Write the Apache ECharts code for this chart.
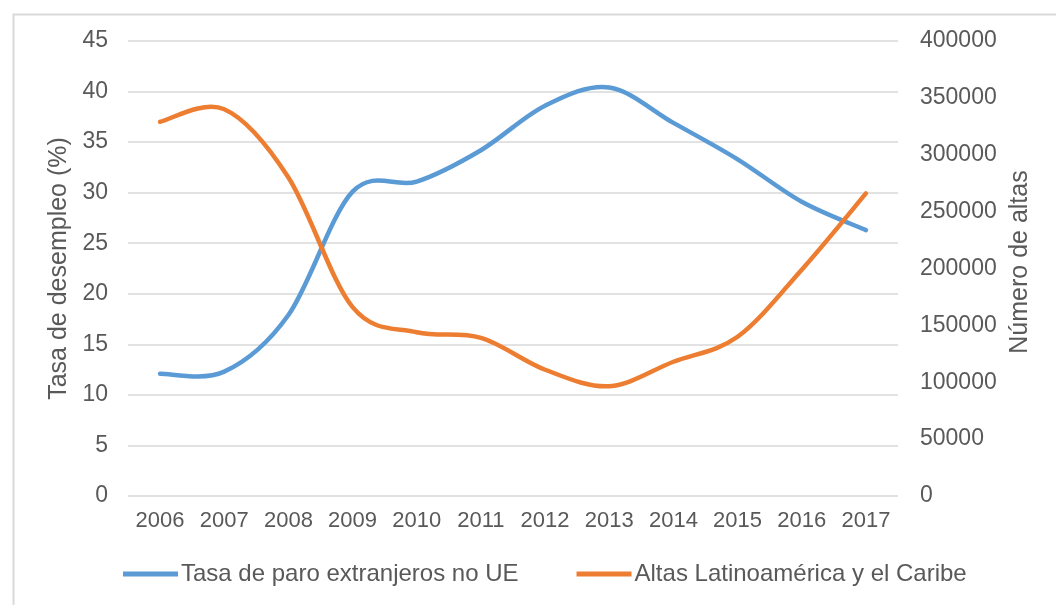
<!DOCTYPE html>
<html>
<head>
<meta charset="utf-8">
<script src="https://cdn.jsdelivr.net/npm/echarts@6/dist/echarts.min.js"></script>
<style>
html,body{margin:0;padding:0;background:#fff;}
#chart{width:1056px;height:605px;}
</style>
</head>
<body>
<div id="chart"></div>
<script>
const years = ['2006','2007','2008','2009','2010','2011','2012','2013','2014','2015','2016','2017'];
const tasaParo = [12.1, 12.3, 17.9, 30.1, 31.1, 34.2, 38.6, 40.4, 36.9, 33.3, 29.1, 26.3];
const altas = [329000, 340000, 280000, 166000, 144000, 139000, 111000, 96500, 118000, 140000, 199000, 266000];
const seriesNames = ['Tasa de paro extranjeros no UE', 'Altas Latinoamérica y el Caribe'];
const leftAxisName = 'Tasa de desempleo (%)';
const rightAxisName = 'Número de altas';

const font = 'Liberation Sans, Arial, sans-serif';
const txt = '#595959';
const BLUE = '#5B9BD5', ORANGE = '#ED7D31';

// Smooth (Excel-like Catmull-Rom) line drawn through the axis scales
function smoothRender(values, color) {
  return function (params, api) {
    if (params.dataIndex !== 0) return null;
    const pts = values.map((v, i) => api.coord([i, v]));
    let d = 'M' + pts[0][0] + ' ' + pts[0][1];
    for (let i = 0; i < pts.length - 1; i++) {
      const p0 = pts[i - 1] || pts[i], p1 = pts[i], p2 = pts[i + 1], p3 = pts[i + 2] || pts[i + 1];
      const c1x = p1[0] + (p2[0] - p0[0]) / 6, c1y = p1[1] + (p2[1] - p0[1]) / 6;
      const c2x = p2[0] - (p3[0] - p1[0]) / 6, c2y = p2[1] - (p3[1] - p1[1]) / 6;
      d += ' C' + c1x + ' ' + c1y + ' ' + c2x + ' ' + c2y + ' ' + p2[0] + ' ' + p2[1];
    }
    return {
      type: 'path', shape: {pathData: d},
      style: {stroke: color, lineWidth: 4.5, fill: null, lineCap: 'round', lineJoin: 'round'}
    };
  };
}

const chart = echarts.init(document.getElementById('chart'));
chart.setOption({
  animation: false,
  backgroundColor: '#fff',
  graphic: [{
    type: 'rect', left: 11, top: 12, silent: true, z: -1,
    shape: {width: 1100, height: 700},
    style: {fill: 'none', stroke: '#d9d9d9', lineWidth: 2}
  }, {
    type: 'text', x: 1020, y: 262, rotation: Math.PI / 2, silent: true,
    style: {text: rightAxisName, fill: txt, fontSize: 25, fontFamily: font,
      align: 'center', verticalAlign: 'middle'}
  }],
  grid: {left: 128, right: 158, top: 41, bottom: 109},
  legend: {
    data: seriesNames,
    bottom: 14, left: 118,
    icon: 'rect', itemWidth: 55, itemHeight: 5, itemGap: 58,
    textStyle: {color: txt, fontSize: 24, fontFamily: font, padding: [0, 0, 0, -2]}
  },
  xAxis: {
    type: 'category', data: years, boundaryGap: true,
    axisLine: {show: false}, axisTick: {show: false},
    axisLabel: {color: txt, fontSize: 22, fontFamily: font, margin: 14, interval: 0}
  },
  yAxis: [{
    type: 'value', min: 0, max: 45, interval: 5, position: 'left',
    name: leftAxisName, nameLocation: 'middle', nameGap: 47, nameRotate: 90,
    nameTextStyle: {color: txt, fontSize: 25, fontFamily: font},
    axisLine: {show: false}, axisTick: {show: false},
    axisLabel: {color: txt, fontSize: 23, fontFamily: font, margin: 20},
    splitLine: {lineStyle: {color: '#d9d9d9', width: 1.5}}
  }, {
    type: 'value', min: 0, max: 400000, interval: 50000, position: 'right',
    axisLine: {show: false}, axisTick: {show: false},
    axisLabel: {color: txt, fontSize: 23, fontFamily: font, margin: 22, formatter: v => String(v)},
    splitLine: {show: false}
  }],
  series: [{
    name: seriesNames[0], type: 'custom', yAxisIndex: 0,
    data: tasaParo.map((v, i) => [i, v]), encode: {x: 0, y: 1},
    itemStyle: {color: BLUE},
    renderItem: smoothRender(tasaParo, BLUE)
  }, {
    name: seriesNames[1], type: 'custom', yAxisIndex: 1,
    data: altas.map((v, i) => [i, v]), encode: {x: 0, y: 1},
    itemStyle: {color: ORANGE},
    renderItem: smoothRender(altas, ORANGE)
  }]
});
</script>
</body>
</html>
